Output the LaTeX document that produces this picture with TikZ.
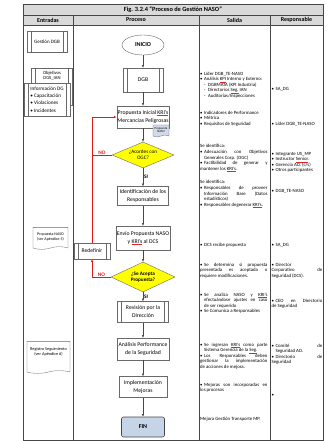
\documentclass[tikz,border=0pt]{standalone}
\usepackage{fontspec}
\setmainfont{Carlito}
\usetikzlibrary{
    arrows.meta,
    shapes.geometric,
    shapes.symbols,
    shadows
}
\definecolor{tablegray}{RGB}{70,70,70}
\definecolor{headgray}{RGB}{217,217,217}
\definecolor{boxgray}{RGB}{105,105,105}
\definecolor{decision}{RGB}{255,255,0}
\definecolor{finblue}{RGB}{198,212,232}
\definecolor{docblue}{RGB}{208,218,232}
\definecolor{rejectred}{RGB}{225,25,25}
\definecolor{spellred}{RGB}{220,40,40}

\newcommand\fsz[2]{\fontsize{#1}{#2}\selectfont}
\newcommand\bul{\par\hangindent=6pt\hangafter=1\noindent\makebox[6pt][l]{\textbullet}\ignorespaces}
\newcommand\dsh{\par\hangindent=12pt\hangafter=1\noindent\hspace*{6pt}\makebox[6pt][l]{-}\ignorespaces}
\newcommand\spl[1]{{\color{spellred}\underline{\color{black}#1}}}

\begin{document}
\begin{tikzpicture}[x=1.5pt, y=-1.5pt,
    tbl/.style={draw=tablegray, line width=0.8pt},
    hdr/.style={font=\bfseries\fsz{9}{10}, inner sep=0pt},
    proc/.style={draw=boxgray, fill=white, line width=0.6pt, font=\fsz{8.6}{12}, align=center, inner sep=1pt},
    predef/.style={proc, path picture={
        \draw[boxgray, line width=0.5pt]
            ([xshift=6pt]path picture bounding box.north west) -- ([xshift=6pt]path picture bounding box.south west)
            ([xshift=-6pt]path picture bounding box.north east) -- ([xshift=-6pt]path picture bounding box.south east);
    }},
    shadowed/.style={drop shadow={shadow xshift=1.3pt, shadow yshift=-1.3pt, fill=gray!55}},
    decide/.style={diamond, aspect=2.4, draw=boxgray, fill=decision, line width=0.6pt, font=\fsz{7.8}{9.5}, align=center, inner sep=0pt},
    docu/.style={tape, tape bend top=none, tape bend bottom=in and out, tape bend height=4pt, draw=boxgray, fill=white, line width=0.5pt, align=center, inner sep=1pt},
    flow/.style={draw=tablegray, line width=0.6pt, -{Latex[length=4pt,width=3.5pt]}},
    reject/.style={draw=rejectred, line width=0.8pt},
    nolbl/.style={above, text=rejectred, font=\bfseries\fsz{8}{9}, inner sep=1pt},
    silbl/.style={right, font=\bfseries\fsz{8}{9}, inner sep=1.5pt},
    sal/.style={anchor=north west, text width=101pt, align=justify, inner sep=0pt, font=\fsz{7.2}{8.3},
        execute at begin node={\hyphenpenalty=10000\exhyphenpenalty=10000}},
    resp/.style={sal, text width=76pt}
]
    \useasboundingbox (0,0) rectangle (330,441);

    % Table frame
    \fill[headgray] (23,4) rectangle (323,25);
    \draw[tbl] (23,4) rectangle (323,440);
    \draw[tbl] (23,15) -- (323,15) (23,25) -- (323,25);
    \foreach \cx in {73,199,270}
        \draw[tbl] (\cx,15) -- (\cx,440);

    % Title and headers
    \node[hdr, font=\bfseries\fsz{9.5}{10}] (title) at (173,9.5) {Fig. 3.2.4 “Proceso de Gestión NASO”};
    \node[hdr] (hent) at (48,20) {Entradas};
    \node[hdr] (hpro) at (136,20) {Proceso};
    \node[hdr] (hsal) at (234.5,20) {Salida};
    \node[hdr] (hres) at (296.5,20) {Responsable};

    % Entradas
    \node[predef, font=\fsz{7.5}{8}, minimum width=60pt, minimum height=31.5pt] (gestion) at (47,41.5) {Gestión DGB};
    \node[predef, minimum width=61.5pt, minimum height=55.5pt] (objetivos) at (52,86.5) {};
    \node[font=\fsz{7}{8}, align=center, inner sep=0pt] (objtxt) at (52,75.5) {Objetivos\\DGS\_IAN};
    \node[predef, font=\fsz{7.8}{11}, align=left, minimum width=69pt, minimum height=49.5pt] (info) at (47,99.5)
        {Información DG\\\textbullet\ Capacitación\\\textbullet\ Violaciones\\\textbullet\ Incidentes};
    \node[docu, font=\fsz{6}{7.5}, minimum width=52.5pt, minimum height=33pt] (propnaso) at (50.5,237) {Propuesta NASO\\(ver Apéndice 5)};
    \node[docu, font=\fsz{6.4}{8}, minimum width=64.5pt, minimum height=48pt] (registro) at (48.5,356) {Registro Seguimiento\\(ver Apéndice 6)\\[6pt]};

    % Proceso
    \node[proc, ellipse, font=\bfseries\fsz{9}{10}, minimum width=63pt, minimum height=30pt] (inicio) at (143,45) {INICIO};
    \node[predef, minimum width=60pt, minimum height=36pt] (dgb) at (143,80) {DGB};
    \node[proc, shadowed, minimum width=78pt, minimum height=33pt] (propini) at (143,117) {Propuesta Inicial \spl{KRI's}\\Mercancías Peligrosas};
    \node[docu, fill=docblue, font=\fsz{4.6}{5.2}, minimum width=24pt, minimum height=18pt, tape bend height=3pt] (propdoc) at (161,130) {Propuesta\\NASO};
    \node[decide, minimum width=93pt, minimum height=39pt] (acordes) at (143,155) {¿Acordes con\\OGC?};
    \node[proc, minimum width=76.5pt, minimum height=28.5pt] (ident) at (143,196) {Identificación de los\\Responsables};
    \node[proc, shadowed, minimum width=79.5pt, minimum height=36pt] (envio) at (143,238) {Envío Propuesta NASO\\y \spl{KRI's} al DCS};
    \node[decide, font=\bfseries\fsz{7.8}{9.5}, minimum width=96pt, minimum height=45pt] (acepta) at (143,277) {¿Se Acepta\\Propuesta?};
    \node[predef, font=\fsz{8.4}{9}, minimum width=54pt, minimum height=24pt] (redef) at (92,251) {Redefinir};
    \node[predef, minimum width=76.5pt, minimum height=31.5pt] (revision) at (143,312) {Revisión por la\\Dirección};
    \node[proc, minimum width=78pt, minimum height=33pt] (analisis) at (143,349) {Análisis Performance\\de la Seguridad};
    \node[proc, minimum width=72pt, minimum height=31.5pt] (implem) at (143,387) {Implementación\\Mejoras};
    \node[proc, rounded corners=3pt, fill=finblue, draw=tablegray, line width=0.9pt, font=\bfseries\fsz{9}{10}, minimum width=64.5pt, minimum height=30pt] (fin) at (143,427) {FIN};

    % Flow
    \draw[flow] (inicio) -- (dgb);
    \draw[flow] (dgb) -- (propini);
    \draw[flow] (propini) -- (acordes);
    \draw[flow] (acordes) -- node[silbl]{SI} (ident);
    \draw[flow] (ident) -- (envio);
    \draw[flow] (envio) -- (acepta);
    \draw[flow] (acepta) -- node[silbl]{SI} (revision);
    \draw[flow] (revision) -- (analisis);
    \draw[flow] (analisis) -- (implem);
    \draw[flow] (implem) -- (fin);

    % Rejections
    \draw[reject] (acordes.west) -- node[nolbl]{NO} (acordes.west -| redef.north);
    \draw[reject, -{Latex[length=4pt,width=3.5pt]}] (redef.north) |- (propini.west);
    \draw[reject, -{Latex[length=4pt,width=3.5pt]}] (acepta.west) -| node[nolbl, pos=0.25]{NO} (redef.south);

    % Salida
    \node[sal] (s1) at (200,69.5) {\bul Líder DGB\_TE-NASO \bul Análisis \spl{KPI} Interno y Externo: \dsh DGBMATA (KPI Industria) \dsh Directorios \spl{Seg.} IAN \dsh Auditorías/Inspecciones};
    \node[sal] (s2) at (200,108.5) {\bul Indicadores de Performance \bul Métrica \bul Requisitos de Seguridad};
    \node[sal] (s3) at (200,144.5) {Se identifica: \bul Adecuación con Objetivos \linebreak Generales Corp. (OGC) \bul Factibilidad de generar y \linebreak mantener los \spl{KRI's}.};
    \node[sal] (s4) at (200,180.5) {Se identifica: \bul Responsables de proveer \linebreak Información Base (Datos \linebreak estadísticos) \bul Responsables degenerar \spl{KRI's}.};
    \node[sal] (s5) at (200,240.5) {\bul DCS recibe propuesta};
    \node[sal] (s6) at (200,260.5) {\bul Se determina si propuesta \linebreak presentada es aceptada o \linebreak requiere modificaciones.};
    \node[sal] (s7) at (200,290.5) {\bul Se analiza NASO y \spl{KRI's} \linebreak efectuándose ajustes en caso \linebreak de ser requerido \bul Se Comunica a Responsables};
    \node[sal] (s8) at (200,340.5) {\bul Se ingresan \spl{KRI's} como parte \linebreak Sistema Gerencia de la \spl{Seg.} \bul Los Responsables deben \linebreak gestionar la implementación \linebreak de acciones de mejora.};
    \node[sal] (s9) at (200,380.5) {\bul Mejoras son incorporadas en \linebreak los procesos};
    \node[sal] (s10) at (200,417.5) {Mejora Gestión Transporte MP.};

    % Responsable
    \node[resp] (r1) at (271.5,84.5) {\bul SA\_DG};
    \node[resp] (r2) at (271.5,119.5) {\bul Líder DGB\_TE-NASO};
    \node[resp] (r3) at (271.5,149.5) {\bul Integrante US\_MP \bul Instructor \spl{Senior}. \bul Gerencia AO. (c/s) \bul Otros participantes};
    \node[resp] (r4) at (271.5,186.5) {\bul DGB\_TE-NASO};
    \node[resp] (r5) at (271.5,240.5) {\bul SA\_DG};
    \node[resp] (r6) at (271.5,260.5) {\bul Director \linebreak Corporativo de \linebreak Seguridad (DCS).};
    \node[resp] (r7) at (271.5,296.5) {\bul CEO en Directorio \linebreak de Seguridad};
    \node[resp] (r8) at (271.5,341.5) {\bul Comité de \linebreak Seguridad AO. \bul Directorio de \linebreak Seguridad};
    \node[resp] (r9) at (271.5,390.5) {\bul};
\end{tikzpicture}
\end{document}
